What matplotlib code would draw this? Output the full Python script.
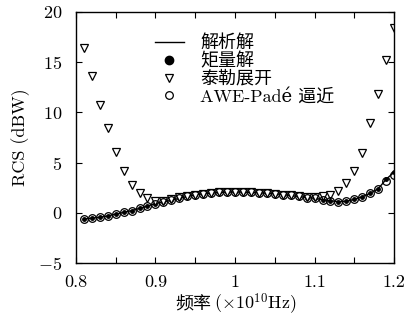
import matplotlib
matplotlib.use("Agg")
import matplotlib.pyplot as plt
import numpy as np

plt.rcParams["font.family"] = ["cmr10", "DejaVu Serif", "Noto Sans CJK SC"]
plt.rcParams["mathtext.fontset"] = "cm"
plt.rcParams["axes.formatter.use_mathtext"] = True
plt.rcParams["axes.unicode_minus"] = True

freq = np.round(np.arange(0.81, 1.2001, 0.01), 2)

analytic = [-0.62, -0.52, -0.45, -0.30, -0.13, 0.05, 0.22, 0.45, 0.68, 0.92,
            1.10, 1.25, 1.45, 1.63, 1.80, 1.90, 1.97, 2.03, 2.07, 2.07,
            2.07, 2.03, 2.00, 1.95, 1.90, 1.82, 1.73, 1.63, 1.53, 1.45,
            1.33, 1.20, 1.12, 1.15, 1.35, 1.60, 1.95, 2.40, 3.35, 4.05]
mom = analytic
taylor = [16.4, 13.6, 10.7, 8.4, 6.1, 4.2, 2.8, 1.95, 1.45, 1.15,
          1.20, 1.38, 1.55, 1.68, 1.82, 1.90, 1.97, 2.03, 2.07, 2.07,
          2.07, 2.03, 2.00, 1.95, 1.90, 1.82, 1.75, 1.66, 1.58, 1.55,
          1.65, 1.75, 2.15, 2.95, 4.15, 6.0, 8.95, 11.85, 15.2, 18.45]
awe = [-0.62, -0.52, -0.45, -0.30, -0.13, 0.05, 0.22, 0.45, 0.68, 0.92,
       1.10, 1.25, 1.45, 1.63, 1.80, 1.90, 1.97, 2.03, 2.07, 2.07,
       2.07, 2.03, 2.00, 1.95, 1.90, 1.82, 1.73, 1.63, 1.53, 1.45,
       1.33, 1.20, 1.12, 1.15, 1.35, 1.60, 1.95, 2.40, 3.15, 3.80]

labels = ["解析解", "矩量解", "泰勒展开", "AWE-Padé 逼近"]

fig, ax = plt.subplots(figsize=(4.08, 3.24), dpi=100)
fig.subplots_adjust(left=0.186, right=0.966, top=0.963, bottom=0.188)

ax.plot(freq, analytic, color="black", linewidth=1.0, label=labels[0])
ax.plot(freq, mom, linestyle="none", marker="o", markersize=2.5,
        color="black", label=labels[1])
ax.plot(freq, taylor, linestyle="none", marker="v", markersize=6,
        markerfacecolor="white", markeredgecolor="black",
        markeredgewidth=0.9, label=labels[2])
ax.plot(freq, awe, linestyle="none", marker="o", markersize=5.5,
        markerfacecolor="none", markeredgecolor="black",
        markeredgewidth=0.9, label=labels[3])

ax.set_xlim(0.8, 1.2)
ax.set_ylim(-5, 20)
ax.set_xticks([0.8, 0.9, 1.0, 1.1, 1.2])
ax.set_xticklabels(["0.8", "0.9", "1", "1.1", "1.2"])
ax.set_xticks(np.arange(0.85, 1.2, 0.1), minor=True)
ax.set_yticks([-5, 0, 5, 10, 15, 20])
ax.tick_params(which="both", direction="in", top=True, right=True,
               length=4, width=0.8, labelsize=13)
ax.tick_params(axis="x", pad=8)
ax.tick_params(axis="y", pad=10)
for s in ax.spines.values():
    s.set_linewidth(1.0)

# x label: Chinese part and math part as two pieces
ax.text(0.425, -0.165, "频率", transform=ax.transAxes, ha="right",
        va="center", fontsize=13, family=["Noto Sans CJK SC"])
ax.text(0.435, -0.163, "$(\\times10^{10}\\mathrm{Hz})$", transform=ax.transAxes,
        ha="left", va="center", fontsize=13)
ax.set_ylabel("RCS (dBW)", fontsize=13, labelpad=6)

handles, _ = ax.get_legend_handles_labels()
leg = ax.legend(handles, labels, loc="upper center", bbox_to_anchor=(0.53, 0.975),
                frameon=False, fontsize=13, handlelength=1.6,
                labelspacing=0.05, handletextpad=0.9)
leg.legend_handles[1].set_markersize(6)

fig.savefig("out.png", dpi=100)
